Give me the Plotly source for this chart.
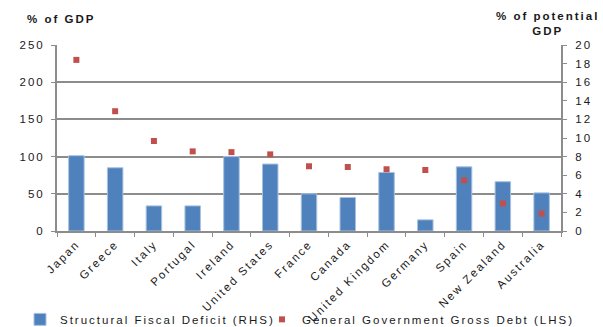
import plotly.graph_objects as go

countries = ["Japan", "Greece", "Italy", "Portugal", "Ireland", "United States", "France",
             "Canada", "United Kingdom", "Germany", "Spain", "New Zealand", "Australia"]
structural_deficit = [8.1, 6.8, 2.7, 2.7, 8.0, 7.2, 4.0, 3.6, 6.3, 1.2, 6.9, 5.3, 4.1]
gross_debt = [230, 161, 121, 107, 106, 103, 87, 86, 83, 82, 68, 37, 23.5]

left_ticks = [0, 50, 100, 150, 200, 250]
right_ticks = list(range(0, 21, 2))

FONT = "Liberation Sans, Arial, sans-serif"
GRID = "#8c8c8c"
FS = 11.5

fig = go.Figure()
# bars on the base axis (right side, % of potential GDP)
fig.add_trace(go.Bar(
    x=countries, y=structural_deficit, yaxis="y",
    name="Structural Fiscal Deficit (RHS)",
    marker=dict(color="#4F81BD", line=dict(color="#A9C2E0", width=1)),
    width=0.4,
))
# markers on the overlaying axis (left side, % of GDP) so they draw above bars
fig.add_trace(go.Scatter(
    x=countries, y=gross_debt, yaxis="y2", mode="markers",
    name="General Government Gross Debt (LHS)",
    marker=dict(symbol="square", size=6, color="#C0504D"),
))

fig.update_layout(
    width=603, height=327,
    margin=dict(l=57, r=42, t=45, b=96, autoexpand=False),
    paper_bgcolor="white", plot_bgcolor="white",
    font=dict(family=FONT, size=FS, color="#1a1a1a"),
    showlegend=True,
    legend=dict(orientation="h", x=-0.0734, xanchor="left", y=-0.475, yanchor="middle",
                font=dict(size=FS), itemwidth=30, traceorder="normal", bgcolor="rgba(0,0,0,0)",
                entrywidth=197, entrywidthmode="pixels", tracegroupgap=0),
    xaxis=dict(tickangle=-45, showgrid=False, showline=True, linecolor=GRID, linewidth=2,
               ticks="outside", ticklen=4, tickcolor=GRID, tickson="boundaries",
               tickfont=dict(size=FS), range=[-0.5, 12.5], automargin=False),
    yaxis=dict(range=[0, 20], tickvals=right_ticks, side="right", showgrid=False,
               showline=True, linecolor=GRID, linewidth=2, ticks="outside", ticklen=4,
               tickcolor=GRID, zeroline=False, tickfont=dict(size=FS), automargin=False,
               ticklabelstandoff=6),
    yaxis2=dict(range=[0, 250], tickvals=left_ticks, overlaying="y", side="left",
                showgrid=True, gridcolor=GRID, gridwidth=1.5,
                showline=True, linecolor=GRID, linewidth=2, ticks="outside", ticklen=4,
                tickcolor=GRID, zeroline=False, tickfont=dict(size=FS), automargin=False,
                ticklabelstandoff=4),
    annotations=[
        dict(text="<b>% of GDP</b>", xref="paper", yref="paper", x=0, xshift=-24, y=1.0, yshift=26,
             xanchor="left", yanchor="middle", showarrow=False, font=dict(size=FS)),
        dict(text="<b>% of potential<br>GDP</b>", xref="paper", yref="paper", x=1.0, xshift=-14,
             y=1.0, yshift=22, xanchor="center", yanchor="middle", showarrow=False,
             font=dict(size=FS), align="center"),
    ],
)

post = """
var gd = document.getElementById('{plot_id}');
gd.querySelectorAll('text').forEach(function(t){ t.style.letterSpacing = '2px'; });
gd.querySelectorAll('.legend [clip-path]').forEach(function(e){ e.removeAttribute('clip-path'); });
"""
fig.write_html("out.html", post_script=post)
